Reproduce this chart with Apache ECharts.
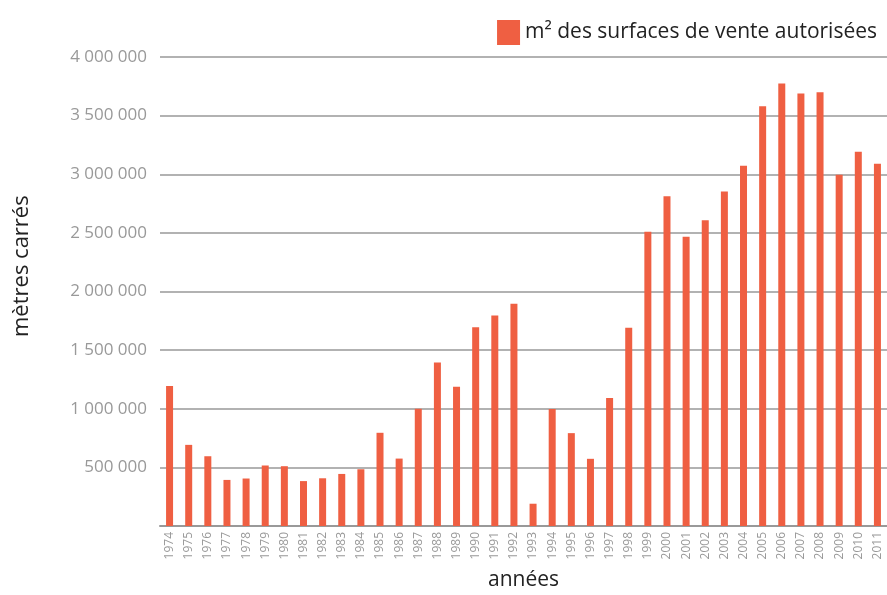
<!DOCTYPE html>
<html>
<head>
<meta charset="utf-8">
<script src="https://cdn.jsdelivr.net/npm/echarts@6/dist/echarts.min.js"></script>
<style>
  html, body { margin: 0; padding: 0; background: #fff; }
  #main { width: 887px; height: 595px; }
</style>
</head>
<body>
<div id="main"></div>
<script>
// années
const years = ['1974', '1975', '1976', '1977', '1978', '1979', '1980', '1981', '1982', '1983',
  '1984', '1985', '1986', '1987', '1988', '1989', '1990', '1991', '1992', '1993',
  '1994', '1995', '1996', '1997', '1998', '1999', '2000', '2001', '2002', '2003',
  '2004', '2005', '2006', '2007', '2008', '2009', '2010', '2011']
// m² des surfaces de vente autorisées
const surfaces = [1195000, 692000, 595000, 393000, 405000, 516000, 510000, 383000, 407000, 444000,
  484000, 795000, 575000, 1000000, 1395000, 1187000, 1695000, 1795000, 1895000, 190000,
  998000, 792000, 573000, 1092000, 1690000, 2510000, 2812000, 2468000, 2608000, 2853000,
  3073000, 3580000, 3775000, 3688000, 3700000, 2995000, 3192000, 3090000]
const yTicks = { min: 0, max: 4000000, interval: 500000 }

const font = '"Open Sans", "Noto Sans", sans-serif'

function fmt(v) {
  return String(v).replace(/\B(?=(\d{3})+(?!\d))/g, ' ')
}

var myChart = echarts.init(document.getElementById('main'))
var option = {
  animation: false,
  textStyle: { fontFamily: font },
  legend: {
    right: 5,
    top: 15,
    icon: 'rect',
    itemWidth: 23,
    itemHeight: 25,
    itemGap: 10,
    textStyle: { fontSize: 21, color: '#222', fontFamily: font },
    data: ['m² des surfaces de vente autorisées']
  },
  // titre de l'axe vertical, un peu au-dessus du milieu comme dans l'original
  graphic: [
    {
      type: 'text',
      x: 22,
      y: 337,
      rotation: Math.PI / 2,
      style: {
        text: 'mètres carrés',
        fontSize: 22,
        fontFamily: font,
        fill: '#222',
        align: 'left',
        verticalAlign: 'middle'
      }
    }
  ],
  grid: {
    left: 160,
    right: 0,
    top: 57,
    bottom: 69,
    outerBoundsMode: 'none'
  },
  xAxis: {
    type: 'category',
    data: years,
    name: 'années',
    nameLocation: 'middle',
    nameGap: 44,
    nameTextStyle: { fontSize: 21, color: '#222', fontFamily: font },
    axisLine: { lineStyle: { color: '#999', width: 2 } },
    axisTick: { show: false },
    axisLabel: { rotate: 90, fontSize: 12, color: '#999', margin: 6, interval: 0 }
  },
  yAxis: {
    type: 'value',
    min: yTicks.min,
    max: yTicks.max,
    interval: yTicks.interval,
    axisLine: { show: false },
    axisTick: { show: false },
    axisLabel: { fontSize: 17, color: '#999', margin: 13, formatter: fmt, showMinLabel: false },
    splitLine: { lineStyle: { color: '#999', width: 1.5 } }
  },
  series: [
    {
      name: 'm² des surfaces de vente autorisées',
      type: 'bar',
      data: surfaces,
      barWidth: 7,
      itemStyle: { color: '#EF5F42' }
    }
  ]
}
myChart.setOption(option)
</script>
</body>
</html>
